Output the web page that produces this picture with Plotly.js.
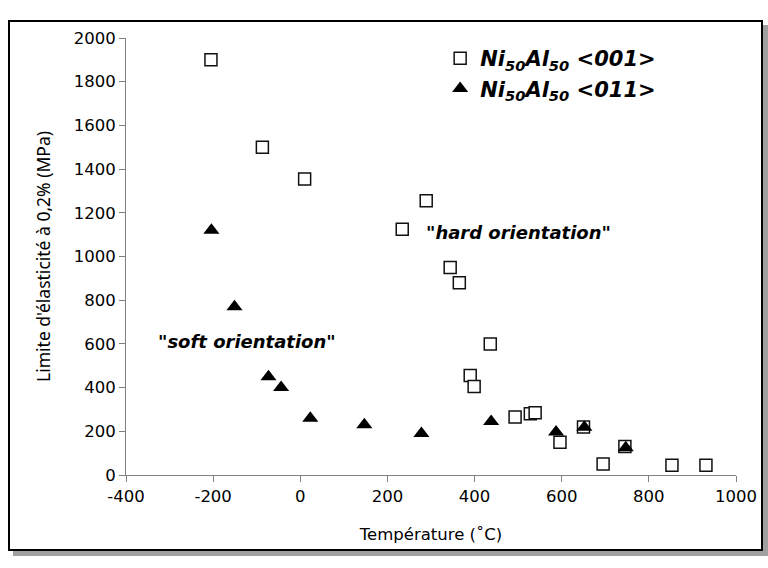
<!DOCTYPE html>
<html>
<head>
<meta charset="utf-8">
<script src="https://cdn.plot.ly/plotly-3.0.1.min.js"></script>
<style>
  html, body { margin: 0; padding: 0; background: #fff; }
  #wrap { position: relative; width: 768px; height: 568px; overflow: hidden; }
  #chart { position: absolute; left: 0; top: 0; width: 768px; height: 568px; }
  #frame { position: absolute; left: 8px; top: 20px; width: 751px; height: 527px;
           border: 2px solid #000; box-shadow: 5px 5px 0 #a0a0a0; pointer-events: none; }
</style>
</head>
<body>
<div id="wrap">
  <div id="chart"></div>
  <div id="frame"></div>
</div>
<script>
// Ni50Al50 <001> (hard orientation)
const temp001  = [-205, -87, 10, 234, 289, 344, 365, 390, 399, 436, 493, 528, 539, 596, 650, 695, 745, 853, 931];
const yield001 = [1900, 1500, 1355, 1125, 1255, 950, 880, 455, 405, 600, 265, 280, 285, 150, 220, 50, 130, 45, 45];
// Ni50Al50 <011> (soft orientation)
const temp011  = [-204, -151, -73, -44, 23, 147, 278, 438, 587, 652, 747];
const yield011 = [1120, 770, 450, 400, 260, 230, 190, 245, 197, 218, 125];

const seriesNames = ["Ni<sub>50</sub>Al<sub>50</sub> &lt;001&gt;", "Ni<sub>50</sub>Al<sub>50</sub> &lt;011&gt;"];
const xTicks = [-400, -200, 0, 200, 400, 600, 800, 1000];
const yTicks = [0, 200, 400, 600, 800, 1000, 1200, 1400, 1600, 1800, 2000];

const tickFont = {family: "DejaVu Sans, sans-serif", size: 16.5, color: "#000"};

const traces = [
  {
    x: temp001, y: yield001, mode: "markers", type: "scatter", name: seriesNames[0],
    marker: {symbol: "square", size: 12, color: "#fff", line: {color: "#111", width: 1.5}}
  },
  {
    x: temp011, y: yield011, mode: "markers", type: "scatter", name: seriesNames[1],
    marker: {symbol: "triangle-up", size: 14, color: "#000", line: {color: "#000", width: 0}}
  }
];

const layout = {
  width: 768, height: 568,
  margin: {l: 126, r: 32, t: 38, b: 93},
  paper_bgcolor: "#fff", plot_bgcolor: "#fff",
  showlegend: true,
  legend: {
    x: 0.515, y: 1.0, xanchor: "left", yanchor: "top",
    bgcolor: "rgba(0,0,0,0)", itemwidth: 30,
    font: {family: "DejaVu Sans, sans-serif", size: 21, color: "#000", weight: "bold", style: "italic"},
    tracegroupgap: 0
  },
  xaxis: {
    range: [-400, 1000], tickvals: xTicks, ticktext: xTicks.map(String),
    showgrid: false, zeroline: false, showline: true, linecolor: "#808080", linewidth: 1,
    ticks: "outside", ticklen: 6, tickcolor: "#808080", tickfont: tickFont,
    title: {text: "Température (˚C)", font: {family: "DejaVu Sans, sans-serif", size: 16.5, color: "#000"}, standoff: 23}
  },
  yaxis: {
    range: [0, 2000], tickvals: yTicks, ticktext: yTicks.map(String),
    showgrid: false, zeroline: false, showline: true, linecolor: "#808080", linewidth: 1,
    ticks: "outside", ticklen: 6, tickcolor: "#808080", tickfont: tickFont,
    title: {text: "Limite d'élasticité à 0,2% (MPa)", font: {family: "Noto Sans, Open Sans, sans-serif", size: 17.5, color: "#000"}, standoff: 18}
  },
  annotations: [
    {x: 500, y: 1112, xref: "x", yref: "y", text: "\"hard orientation\"", showarrow: false,
     font: {family: "DejaVu Sans, sans-serif", size: 18, color: "#000", weight: "bold", style: "italic"}},
    {x: -122, y: 609, xref: "x", yref: "y", text: "\"soft orientation\"", showarrow: false,
     font: {family: "DejaVu Sans, sans-serif", size: 18, color: "#000", weight: "bold", style: "italic"}}
  ]
};

Plotly.newPlot("chart", traces, layout, {displayModeBar: false, staticPlot: true});
</script>
</body>
</html>
